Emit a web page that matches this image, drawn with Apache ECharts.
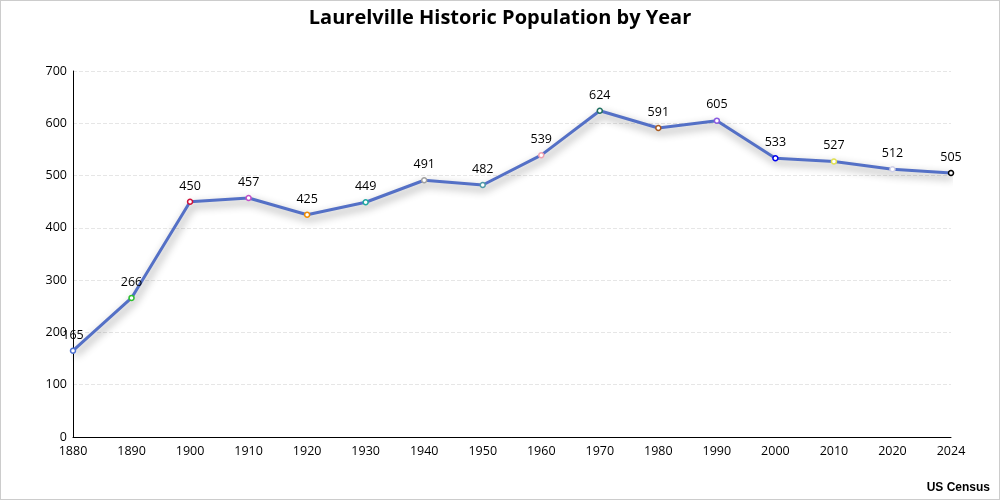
<!DOCTYPE html>
<html>
<head>
<meta charset="utf-8">
<script src="https://cdn.jsdelivr.net/npm/echarts@6/dist/echarts.min.js"></script>
<style>
  html, body { margin: 0; padding: 0; background: #fff; }
  #chart { width: 1000px; height: 500px; box-sizing: border-box; border: 1px solid #cccccc; }
</style>
</head>
<body>
<div id="chart"></div>
<script>
'use strict';

var years = ['1880', '1890', '1900', '1910', '1920', '1930', '1940', '1950',
  '1960', '1970', '1980', '1990', '2000', '2010', '2020', '2024'];
var population = [165, 266, 450, 457, 425, 449, 491, 482, 539, 624, 591, 605, 533, 527, 512, 505];

// marker border colour for each year
var pointColors = ['#4a6fd0', '#2ec02e', '#d0103a', '#c050c8', '#f08c00', '#20a8a0', '#a0a0a0', '#4f9aa8',
  '#f0a0b0', '#1f6f60', '#a85a20', '#8a5ae0', '#0000ee', '#e0e050', '#d0d0e8', '#000000'];

var font = '"Open Sans", "Noto Sans", sans-serif';

var chart = echarts.init(document.getElementById('chart'), null, {renderer: 'canvas'});

var option = {
  backgroundColor: '#ffffff',
  animation: false,
  textStyle: {fontFamily: font},
  title: [
    {
      text: 'Laurelville Historic Population by Year',
      left: 'center',
      top: 2,
      textStyle: {fontFamily: font, fontSize: 20, fontWeight: 'bold', color: '#000'}
    },
    {
      text: 'US Census',
      right: 4,
      bottom: 0,
      textStyle: {fontFamily: '"Liberation Sans", Arial, sans-serif', fontSize: 12, fontWeight: 'bold', color: '#000'}
    }
  ],
  grid: {left: 72, right: 48, top: 70, bottom: 62, containLabel: false},
  xAxis: {
    type: 'category',
    data: years,
    boundaryGap: false,
    axisLine: {show: true, lineStyle: {color: '#000', width: 1}},
    axisTick: {show: false},
    axisLabel: {color: '#000', fontSize: 12.5, margin: 8, fontFamily: font},
    splitLine: {show: false}
  },
  yAxis: {
    type: 'value',
    min: 0,
    max: 700,
    interval: 100,
    axisLine: {show: true, lineStyle: {color: '#000', width: 1}},
    axisTick: {show: false},
    axisLabel: {color: '#000', fontSize: 12.5, margin: 6, fontFamily: font},
    splitLine: {show: true, lineStyle: {color: '#e6e6e6', type: 'dashed', width: 1}}
  },
  series: [
    {
      type: 'line',
      data: population.map(function (v, i) {
        return {value: v, itemStyle: {color: '#ffffff', borderColor: pointColors[i], borderWidth: 1.5}};
      }),
      symbol: 'circle',
      symbolSize: 5,
      lineStyle: {
        color: '#5470c6',
        width: 3,
        shadowColor: 'rgba(0,0,0,0.45)',
        shadowBlur: 8,
        shadowOffsetX: 2,
        shadowOffsetY: 4
      },
      label: {
        show: true,
        position: 'top',
        distance: 6,
        color: '#000',
        fontSize: 12.5,
        fontFamily: font
      }
    }
  ]
};

chart.setOption(option);
</script>
</body>
</html>
